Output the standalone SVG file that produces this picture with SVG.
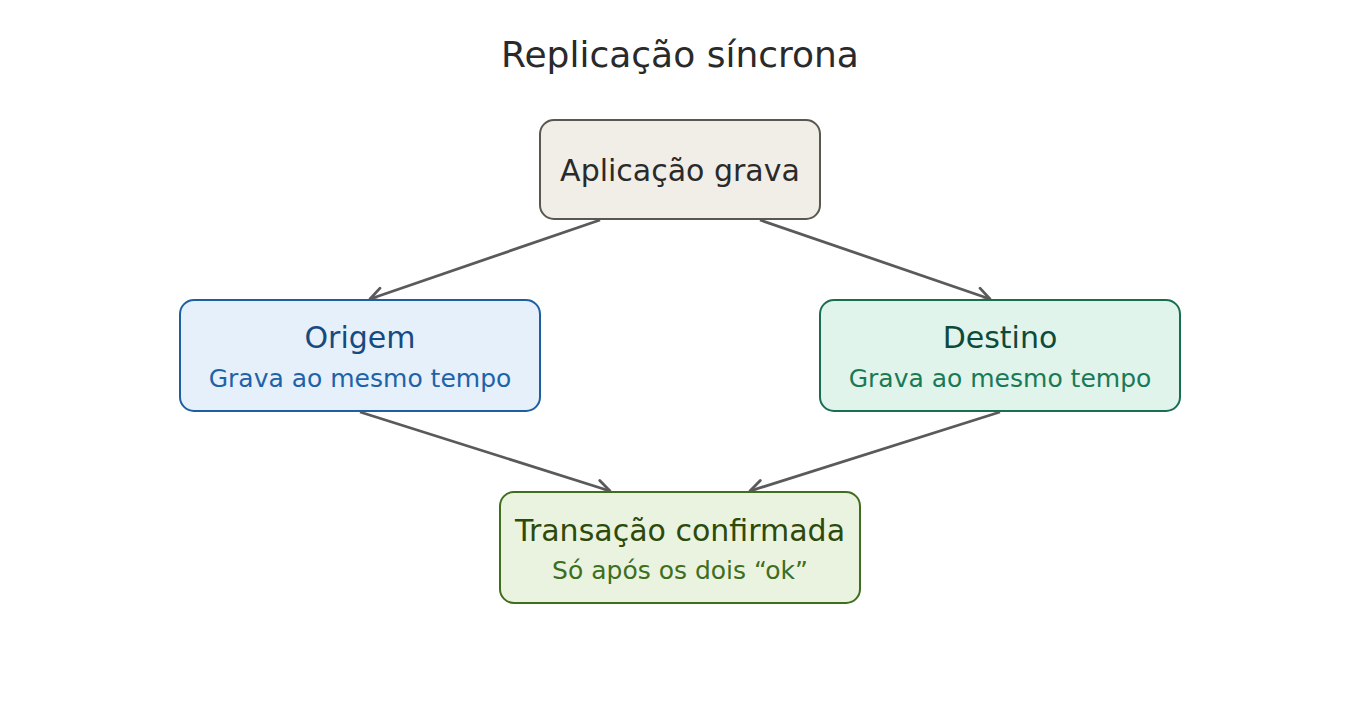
<svg xmlns="http://www.w3.org/2000/svg" width="1360" height="720" viewBox="0 0 1360 720">
<defs>
<marker id="arr" viewBox="0 0 20 20" refX="17" refY="10" markerWidth="20" markerHeight="20" markerUnits="userSpaceOnUse" orient="auto">
<path d="M4,3 L17,10 L4,17" fill="none" stroke="#5a5a5a" stroke-width="2.8" stroke-linecap="round" stroke-linejoin="round"/>
</marker>
<style>
text{font-family:"DejaVu Sans","Noto Sans",sans-serif;text-anchor:middle}
.t{font-size:30px}
.s{font-size:25px}
.edge{fill:none;stroke:#5a5a5a;stroke-width:2.8;marker-end:url(#arr)}
</style>
</defs>
<rect width="1360" height="720" fill="#ffffff"/>
<text x="680" y="67" style="font-size:36px" fill="#2a2a2a">Replicação síncrona</text>
<g id="connectors">
<line class="edge" x1="600" y1="220" x2="370" y2="299"/>
<line class="edge" x1="760" y1="220" x2="990" y2="299"/>
<line class="edge" x1="360" y1="412" x2="610" y2="491"/>
<line class="edge" x1="1000" y1="412" x2="750" y2="491"/>
</g>
<g id="app">
<rect x="540" y="120" width="280" height="99" rx="14" fill="#f1eee8" stroke="#5a5650" stroke-width="2"/>
<text class="t" x="680" y="181" fill="#2a2a2a">Aplicação grava</text>
</g>
<g id="origem">
<rect x="180" y="300" width="360" height="111" rx="14" fill="#e6f0fa" stroke="#1e5fa0" stroke-width="2"/>
<text class="t" x="360" y="348" fill="#174a80">Origem</text>
<text class="s" x="360" y="387" fill="#1e63a8">Grava ao mesmo tempo</text>
</g>
<g id="destino">
<rect x="820" y="300" width="360" height="111" rx="14" fill="#e0f4ec" stroke="#1a6e50" stroke-width="2"/>
<text class="t" x="1000" y="348" fill="#0d4a3a">Destino</text>
<text class="s" x="1000" y="387" fill="#1a7a55">Grava ao mesmo tempo</text>
</g>
<g id="transacao">
<rect x="500" y="492" width="360" height="111" rx="14" fill="#eaf3df" stroke="#3f6e1e" stroke-width="2"/>
<text class="t" x="680" y="541" fill="#2d4a0a">Transação confirmada</text>
<text class="s" x="680" y="579" fill="#3f6e1e">Só após os dois “ok”</text>
</g>
</svg>
